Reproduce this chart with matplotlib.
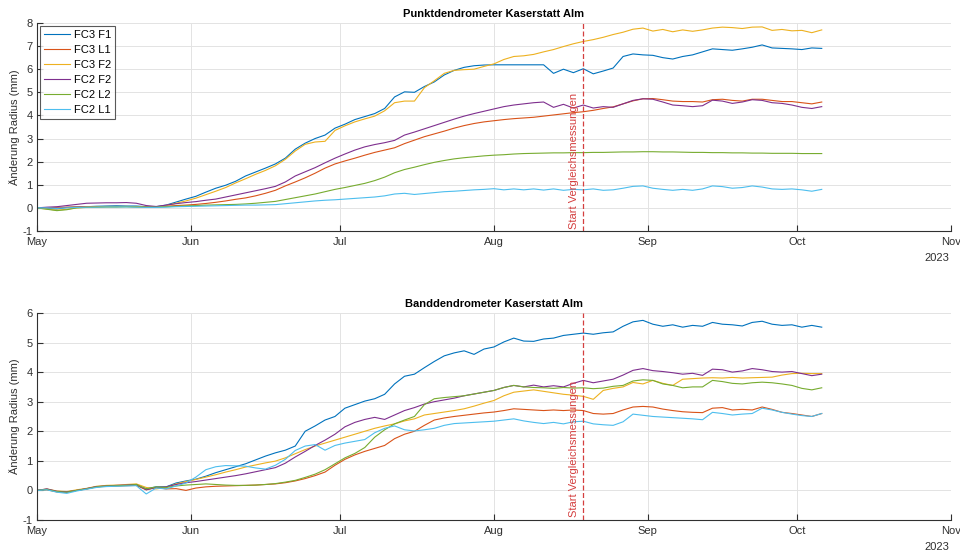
import numpy as np
import pandas as pd
import matplotlib
matplotlib.use("Agg")
import matplotlib.pyplot as plt
import matplotlib.dates as mdates

plt.rcParams["font.family"] = ["Liberation Sans", "DejaVu Sans"]
plt.rcParams["axes.unicode_minus"] = False

# Messzeitpunkte: alle 2 Tage ab 1. Mai 2023
dates = pd.date_range("2023-05-01", periods=80, freq="2D")
start_vergleich = pd.Timestamp("2023-08-19")

labels = ["FC3 F1", "FC3 L1", "FC3 F2", "FC2 F2", "FC2 L2", "FC2 L1"]
colors = ["#0072BD", "#D95319", "#EDB120", "#7E2F8E", "#77AC30", "#4DBEEE"]

# Punktdendrometer (mm)
punkt_fc3_f1 = [
    0.0, -0.03, -0.05, 0.02, 0.04, 0.05, 0.07, 0.08, 0.09, 0.08,
    0.08, 0.05, 0.05, 0.12, 0.25, 0.38, 0.5, 0.68, 0.85, 0.98,
    1.15, 1.38, 1.55, 1.72, 1.9, 2.15, 2.54, 2.8, 3.0, 3.15,
    3.45, 3.62, 3.82, 3.95, 4.08, 4.3, 4.8, 5.02, 5.0, 5.25,
    5.45, 5.75, 5.95, 6.08, 6.15, 6.18, 6.19, 6.19, 6.19, 6.19,
    6.19, 6.19, 5.82, 6.0, 5.85, 6.02, 5.8, 5.92, 6.05, 6.55,
    6.66, 6.62, 6.6, 6.5, 6.44, 6.55, 6.62, 6.75, 6.88, 6.85,
    6.82, 6.88, 6.95, 7.05, 6.92, 6.9, 6.88, 6.85, 6.92, 6.9,
]
punkt_fc3_l1 = [
    0.0, 0.0, 0.02, 0.03, 0.04, 0.05, 0.05, 0.06, 0.06, 0.06,
    0.05, 0.04, 0.05, 0.07, 0.1, 0.12, 0.15, 0.19, 0.24, 0.3,
    0.37, 0.43, 0.52, 0.63, 0.76, 0.95, 1.12, 1.3, 1.5, 1.72,
    1.9, 2.03, 2.15, 2.28, 2.4, 2.5, 2.6, 2.78, 2.93, 3.08,
    3.2, 3.32, 3.45, 3.56, 3.65, 3.72, 3.77, 3.82, 3.86, 3.89,
    3.92, 3.97, 4.02, 4.07, 4.12, 4.16, 4.22, 4.3, 4.37, 4.5,
    4.63, 4.72, 4.73, 4.68, 4.62, 4.6, 4.6, 4.58, 4.68, 4.7,
    4.65, 4.62, 4.7, 4.7, 4.65, 4.6, 4.6, 4.55, 4.5, 4.58,
]
punkt_fc3_f2 = [
    0.0, -0.05, -0.1, -0.06, 0.0, 0.03, 0.04, 0.05, 0.05, 0.06,
    0.05, 0.02, 0.03, 0.1, 0.2, 0.3, 0.42, 0.57, 0.72, 0.88,
    1.08, 1.26, 1.45, 1.62, 1.82, 2.1, 2.46, 2.75, 2.85, 2.88,
    3.35, 3.55, 3.72, 3.85, 3.97, 4.2, 4.55, 4.62, 4.62, 5.2,
    5.5, 5.82, 5.95, 5.98, 6.0, 6.12, 6.23, 6.42, 6.55, 6.58,
    6.64, 6.75, 6.85, 6.98, 7.1, 7.2, 7.28, 7.38, 7.5, 7.6,
    7.73, 7.78, 7.65, 7.72, 7.62, 7.7, 7.64, 7.7, 7.78, 7.82,
    7.8, 7.76, 7.82, 7.83, 7.68, 7.72, 7.66, 7.68, 7.58, 7.7,
]
punkt_fc2_f2 = [
    0.0, 0.03, 0.05, 0.1, 0.15, 0.2, 0.21, 0.22, 0.22, 0.23,
    0.2, 0.1, 0.06, 0.12, 0.18, 0.23, 0.27, 0.33, 0.38, 0.47,
    0.56, 0.65, 0.74, 0.83, 0.93, 1.12, 1.38, 1.56, 1.74, 1.95,
    2.15, 2.33, 2.5, 2.64, 2.74, 2.82, 2.92, 3.15, 3.28, 3.42,
    3.56, 3.7, 3.84, 3.97, 4.08, 4.18, 4.28, 4.38, 4.45, 4.5,
    4.55, 4.58, 4.35, 4.48, 4.32, 4.45, 4.32, 4.38, 4.35, 4.5,
    4.65, 4.72, 4.7, 4.58, 4.45, 4.42, 4.38, 4.42, 4.66, 4.62,
    4.52, 4.58, 4.68, 4.65, 4.55, 4.52, 4.45, 4.35, 4.3, 4.38,
]
punkt_fc2_l2 = [
    0.0, -0.06, -0.12, -0.08, 0.0, 0.02, 0.03, 0.04, 0.04, 0.05,
    0.04, 0.03, 0.03, 0.05, 0.07, 0.09, 0.1, 0.12, 0.13, 0.14,
    0.15, 0.17, 0.2, 0.24, 0.28, 0.36, 0.44, 0.52, 0.6, 0.7,
    0.8, 0.88, 0.97, 1.06, 1.18, 1.33, 1.52, 1.66, 1.76, 1.87,
    1.97, 2.05, 2.12, 2.17, 2.21, 2.25, 2.28, 2.3, 2.33, 2.35,
    2.36, 2.37, 2.38, 2.38, 2.39, 2.39, 2.4, 2.4, 2.41, 2.42,
    2.42, 2.43, 2.43, 2.42, 2.42, 2.41, 2.4, 2.4, 2.39, 2.39,
    2.38, 2.38, 2.37, 2.37, 2.36, 2.36, 2.36, 2.35, 2.35, 2.35,
]
punkt_fc2_l1 = [
    0.0, 0.0, -0.02, 0.0, 0.02, 0.03, 0.03, 0.04, 0.04, 0.04,
    0.03, 0.02, 0.02, 0.03, 0.05, 0.06, 0.07, 0.08, 0.09, 0.1,
    0.11, 0.12, 0.12, 0.13, 0.14, 0.18, 0.22, 0.26, 0.3, 0.33,
    0.35, 0.38, 0.41, 0.44, 0.47, 0.52, 0.6, 0.63, 0.58, 0.62,
    0.66, 0.7, 0.72, 0.75, 0.78, 0.8, 0.83, 0.78, 0.82, 0.78,
    0.82, 0.77, 0.82, 0.76, 0.8, 0.78, 0.82, 0.76, 0.78, 0.85,
    0.93, 0.95, 0.85, 0.8, 0.76, 0.8, 0.76, 0.82, 0.95, 0.92,
    0.85, 0.88, 0.95, 0.9, 0.82, 0.8, 0.82, 0.78, 0.72, 0.8,
]

# Banddendrometer (mm)
band_fc3_f1 = [
    0.0, 0.04, -0.04, -0.06, 0.0, 0.06, 0.12, 0.15, 0.16, 0.17,
    0.18, 0.06, 0.12, 0.12, 0.25, 0.32, 0.38, 0.48, 0.6, 0.7,
    0.8, 0.9, 1.03, 1.16, 1.27, 1.36, 1.5, 2.0, 2.18, 2.38,
    2.5, 2.78, 2.9, 3.02, 3.1, 3.25, 3.6, 3.86, 3.93, 4.15,
    4.36, 4.55, 4.65, 4.72, 4.6, 4.78, 4.85, 5.02, 5.15, 5.05,
    5.04, 5.12, 5.15, 5.24, 5.28, 5.32, 5.28, 5.33, 5.36, 5.55,
    5.7, 5.75, 5.62, 5.55, 5.6, 5.52, 5.58, 5.55, 5.68, 5.62,
    5.6, 5.56, 5.68, 5.72, 5.62, 5.58, 5.6, 5.52, 5.58, 5.52,
]
band_fc3_l1 = [
    0.0, 0.02, -0.05, -0.05, 0.0, 0.05, 0.12, 0.14, 0.15, 0.16,
    0.17, 0.02, 0.1, 0.05, 0.06, 0.0, 0.08, 0.12, 0.14, 0.15,
    0.16, 0.17, 0.18, 0.2, 0.22, 0.26, 0.32, 0.4, 0.5, 0.62,
    0.85, 1.05, 1.2, 1.32, 1.42, 1.52, 1.75, 1.9, 2.0, 2.2,
    2.38, 2.45, 2.5, 2.54, 2.58, 2.62, 2.65, 2.7, 2.76, 2.74,
    2.72, 2.7, 2.72, 2.7, 2.72, 2.7, 2.6, 2.58, 2.6, 2.72,
    2.82, 2.84, 2.82, 2.75, 2.7, 2.66, 2.64, 2.63, 2.78, 2.8,
    2.72, 2.74, 2.72, 2.82, 2.74, 2.64, 2.6, 2.55, 2.5, 2.6,
]
band_fc3_f2 = [
    0.0, 0.05, -0.02, -0.04, 0.02, 0.07, 0.14, 0.17, 0.18, 0.2,
    0.22, 0.1, 0.05, 0.1, 0.22, 0.3, 0.37, 0.45, 0.53, 0.62,
    0.7, 0.79, 0.86, 0.93, 0.99, 1.1, 1.24, 1.38, 1.5, 1.6,
    1.7, 1.8, 1.9, 2.0, 2.1, 2.18, 2.25, 2.35, 2.42, 2.55,
    2.6, 2.65, 2.7, 2.76, 2.85, 2.95, 3.04, 3.2, 3.32, 3.36,
    3.4, 3.35, 3.3, 3.25, 3.22, 3.18, 3.08, 3.38, 3.45, 3.5,
    3.65, 3.6, 3.72, 3.62, 3.55, 3.76, 3.78, 3.8, 3.81, 3.8,
    3.82, 3.8, 3.81, 3.82, 3.83, 3.9, 3.95, 3.96, 3.95, 3.95,
]
band_fc2_f2 = [
    0.0, 0.05, -0.03, -0.05, 0.0, 0.06, 0.13, 0.15, 0.17, 0.18,
    0.2, 0.02, 0.1, 0.12, 0.2, 0.26, 0.3, 0.35, 0.4, 0.45,
    0.5, 0.56, 0.63, 0.7, 0.77, 0.92, 1.13, 1.32, 1.52, 1.7,
    1.9, 2.15, 2.3, 2.4, 2.47, 2.4, 2.55, 2.7, 2.8, 2.92,
    3.0, 3.06, 3.12, 3.2, 3.26, 3.32, 3.38, 3.48, 3.55, 3.5,
    3.56, 3.5, 3.54, 3.5, 3.62, 3.72, 3.64, 3.7, 3.76, 3.9,
    4.06, 4.12, 4.05, 4.02, 3.98, 3.93, 3.96, 3.89, 4.1, 4.08,
    4.0, 4.04, 4.12, 4.08, 4.02, 4.0, 4.02, 3.95, 3.88, 3.93,
]
band_fc2_l2 = [
    0.0, 0.03, -0.04, -0.06, 0.0, 0.05, 0.12, 0.15, 0.16, 0.17,
    0.2, 0.05, 0.12, 0.1, 0.15, 0.18, 0.2, 0.22, 0.2, 0.18,
    0.17, 0.17, 0.18, 0.2, 0.23, 0.28, 0.34, 0.44, 0.55, 0.7,
    0.9, 1.1, 1.25, 1.45, 1.8, 2.05, 2.25, 2.38, 2.5, 2.9,
    3.1, 3.14, 3.17, 3.2, 3.26, 3.32, 3.38, 3.48, 3.55, 3.5,
    3.48, 3.47, 3.45, 3.48, 3.46, 3.47, 3.44, 3.46, 3.52, 3.55,
    3.7, 3.74, 3.72, 3.6, 3.55, 3.47, 3.5, 3.5, 3.72, 3.68,
    3.62, 3.6, 3.64, 3.66, 3.64, 3.6, 3.55, 3.45, 3.4, 3.47,
]
band_fc2_l1 = [
    0.0, 0.02, -0.06, -0.1, -0.02, 0.04, 0.1, 0.13, 0.14, 0.15,
    0.16, -0.12, 0.08, 0.05, 0.15, 0.25, 0.45, 0.7, 0.8, 0.84,
    0.83, 0.82, 0.76, 0.72, 0.85, 1.05, 1.35, 1.5, 1.55, 1.36,
    1.52, 1.6, 1.66, 1.72, 1.95, 2.1, 2.18, 2.05, 2.01, 2.05,
    2.1, 2.2, 2.26, 2.28, 2.3, 2.32, 2.34, 2.38, 2.42, 2.35,
    2.3, 2.26, 2.3, 2.25, 2.32, 2.34, 2.25, 2.22, 2.2, 2.32,
    2.58, 2.54, 2.5, 2.48, 2.46, 2.44, 2.42, 2.39, 2.64, 2.6,
    2.55, 2.58, 2.6, 2.78, 2.72, 2.64, 2.58, 2.53, 2.5, 2.6,
]

punkt = [punkt_fc3_f1, punkt_fc3_l1, punkt_fc3_f2, punkt_fc2_f2, punkt_fc2_l2, punkt_fc2_l1]
band = [band_fc3_f1, band_fc3_l1, band_fc3_f2, band_fc2_f2, band_fc2_l2, band_fc2_l1]

fig = plt.figure(figsize=(9.6, 5.51), dpi=100)
ax_top = fig.add_axes([0.0385, 0.5808, 0.952, 0.3775])
ax_bot = fig.add_axes([0.0385, 0.0563, 0.952, 0.3757])

panels = [
    (ax_top, punkt, "Punktdendrometer Kaserstatt Alm", (-1, 8)),
    (ax_bot, band, "Banddendrometer Kaserstatt Alm", (-1, 6)),
]

txt_col = "#303030"
red = "#D43F3F"

for ax, series, title, ylim in panels:
    for vals, lab, col in zip(series, labels, colors):
        assert len(vals) == len(dates)
        ax.plot(dates, vals, color=col, lw=0.8, label=lab)

    ax.axvline(start_vergleich, color=red, ls="--", lw=0.9, dashes=(4, 2))
    ax.text(start_vergleich - pd.Timedelta(hours=20), ylim[0] + 0.1,
            "Start Vergleichsmessungen", rotation=90, color=red,
            fontsize=8, ha="right", va="bottom")

    ax.set_xlim(pd.Timestamp("2023-05-01"), pd.Timestamp("2023-11-01"))
    ax.set_ylim(*ylim)
    ax.set_yticks(np.arange(ylim[0], ylim[1] + 1))
    ax.xaxis.set_major_locator(mdates.MonthLocator())
    ax.xaxis.set_major_formatter(mdates.DateFormatter("%b"))

    ax.grid(True, color="#e3e3e3", lw=0.7)
    ax.set_axisbelow(True)
    for side in ["top", "right"]:
        ax.spines[side].set_visible(False)
    for side in ["left", "bottom"]:
        ax.spines[side].set_color(txt_col)
        ax.spines[side].set_linewidth(0.8)
    ax.tick_params(direction="in", length=4, width=0.8, colors=txt_col,
                   labelsize=8)
    ax.tick_params(axis="x", pad=4)
    ax.tick_params(axis="y", pad=3)

    ax.set_title(title, fontsize=8, fontweight="bold", pad=4)
    ax.set_ylabel("Änderung Radius (mm)", fontsize=8, color=txt_col, labelpad=2)
    ax.text(0.985, -0.13, "2023", transform=ax.transAxes, fontsize=8,
            color=txt_col, ha="center", va="center")

leg = ax_top.legend(loc="upper left", fontsize=8, frameon=True, fancybox=False,
                    edgecolor=txt_col, handlelength=2.4, borderpad=0.35,
                    labelspacing=0.45, handletextpad=0.3, borderaxespad=0.25)
leg.get_frame().set_linewidth(0.8)

fig.savefig("out.png", dpi=100)
